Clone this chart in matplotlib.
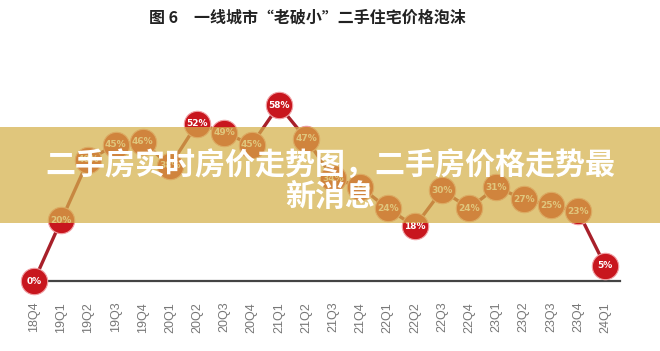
import matplotlib
matplotlib.use("Agg")
import matplotlib.pyplot as plt
from matplotlib.patches import Rectangle

plt.rcParams["font.family"] = ["Noto Sans CJK SC", "DejaVu Sans"]

# quarters and bubble values (%)
QUARTERS = ["18Q4", "19Q1", "19Q2", "19Q3", "19Q4", "20Q1", "20Q2", "20Q3",
            "20Q4", "21Q1", "21Q2", "21Q3", "21Q4", "22Q1", "22Q2", "22Q3",
            "22Q4", "23Q1", "23Q2", "23Q3", "23Q4", "24Q1"]
BUBBLE = [0, 20, 40, 45, 46, 38, 52, 49, 45, 58, 47, 34, 31, 24, 18, 30,
          24, 31, 27, 25, 23, 5]

TITLE = "图 6　一线城市“老破小”二手住宅价格泡沫"
BANNER = "二手房实时房价走势图，二手房价格走势最\n新消息"

RED = "#c8161e"
LINE_RED = "#a8202a"

fig = plt.figure(figsize=(6.6, 3.51), dpi=100)
ax = fig.add_axes([0.0309, 0.1994, 0.9088, 0.604])

x = list(range(len(QUARTERS)))
ax.plot(x, BUBBLE, color=LINE_RED, linewidth=2.4, zorder=3, clip_on=False)
ax.plot(x, BUBBLE, linestyle="none", marker="o", markersize=19,
        markerfacecolor=RED, markeredgecolor="#f0a0a4", markeredgewidth=0.8,
        zorder=4, clip_on=False)
for xi, v in zip(x, BUBBLE):
    ax.text(xi, v, f"{v}%", ha="center", va="center", fontsize=6.5,
            color="white", fontweight="bold", family="DejaVu Sans",
            zorder=5, clip_on=False)

ax.set_xlim(-0.5, 21.55)
ax.set_ylim(0, 70)
ax.set_xticks(x)
ax.set_xticklabels(QUARTERS, rotation=90, fontsize=9, color="#777777",
                   family="Liberation Sans", va="top")
ax.tick_params(axis="x", length=0, pad=15)
ax.set_yticks([])
for side in ["top", "right", "left", "bottom"]:
    ax.spines[side].set_visible(False)
# baseline starts at the first quarter, not at the axes edge
ax.axhline(0, xmin=0.5 / 22.05, xmax=1, color="#444444", linewidth=1.6,
           zorder=2, clip_on=False)

fig.text(0.465, 0.949, TITLE, ha="center", va="center", fontsize=11.5,
         fontweight="bold", color="#222222")

# semi-transparent banner with overlaid headline
fig.add_artist(Rectangle((0, 0.3647), 1, 0.2735, transform=fig.transFigure,
                         facecolor="#d4b04a", alpha=0.72, edgecolor="none",
                         zorder=10))
fig.text(0.5, 0.485, BANNER, ha="center", va="center", fontsize=21.6,
         fontweight="heavy", color="white", linespacing=1.1, zorder=11)

fig.savefig("out.png", dpi=100)
